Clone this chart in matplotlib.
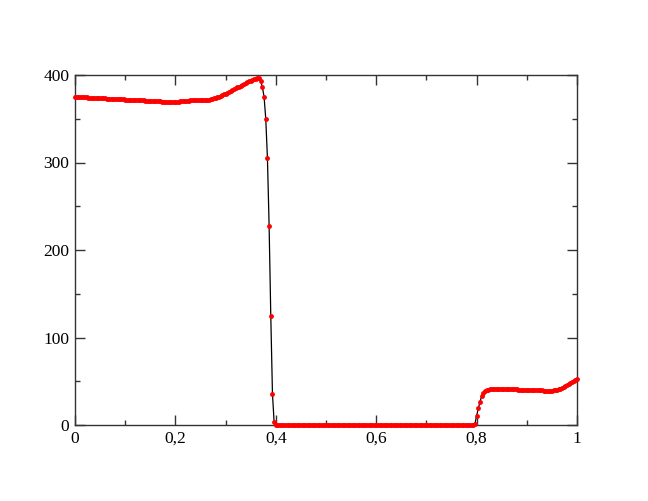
import numpy as np
import matplotlib
matplotlib.use('Agg')
import matplotlib.pyplot as plt
from matplotlib.ticker import MultipleLocator, FuncFormatter

## ---- data: 301 samples on x = i/300 ---- ##

npoints = 301

# left state, slow dip then bump before the drop (x = 0 ... 0.4)
left_part = [375.0, 374.9, 374.8, 374.7, 374.6, 374.5, 374.4, 374.3, 374.2, 374.1,
             374.0, 373.9, 373.8, 373.7, 373.6, 373.5, 373.4, 373.3, 373.2, 373.1,
             373.0, 372.9, 372.8, 372.7, 372.6, 372.5, 372.4, 372.3, 372.2, 372.1,
             372.0, 371.9, 371.8, 371.7, 371.6, 371.5, 371.4, 371.3, 371.2, 371.1,
             371.0, 370.9, 370.8, 370.7, 370.6, 370.5, 370.4, 370.3, 370.1, 370.0,
             369.9, 369.8, 369.7, 369.6, 369.5, 369.4, 369.4, 369.3,
             369.3, 369.3, 369.4, 369.5, 369.7, 369.9, 370.1, 370.3, 370.5,
             370.7, 370.8, 370.9, 371.0, 371.1, 371.2, 371.2, 371.3, 371.3,
             371.4, 371.5, 371.6, 371.8, 372.0, 372.3, 372.7, 373.2, 373.8,
             374.5, 375.3, 376.1, 377.0, 377.9, 378.8, 379.8, 380.8, 381.8, 382.8,
             383.8, 384.8, 385.8, 386.8, 387.7, 388.6, 389.6, 390.6, 391.6, 392.6,
             393.5, 394.4, 395.3, 396.0, 396.6, 396.2, 393.0, 386.0, 375.0, 350.0,
             305.0, 228.0, 125.0, 36.0, 3.0, 0.0]

# empty region between the two fronts
middle_part = [0.0] * 118

# rise near x = 0.8
rise_part = [1.5, 10.0, 19.0, 26.0, 33.0, 37.0, 39.0, 40.0]

# right plateau up to x = 1
right_part = [40.5, 40.7,
              40.8, 40.9, 40.9, 40.9, 40.9, 40.9, 40.8, 40.8, 40.8, 40.8, 40.7, 40.7, 40.7, 40.6,
              40.6, 40.6, 40.5, 40.5, 40.5, 40.4, 40.4, 40.4,
              40.3, 40.2, 40.1, 40.0, 39.9, 39.8, 39.7, 39.6, 39.5, 39.4, 39.4, 39.3, 39.3, 39.3, 39.4,
              39.5, 39.8, 40.2, 40.8, 41.5, 42.3, 43.2, 44.2, 45.3, 46.4, 47.6, 48.8, 50.0, 51.2, 52.3]

x = np.linspace(0, 1, npoints)
y = np.array(left_part + middle_part + rise_part + right_part)

xticklabels = ['0', '0,2', '0,4', '0,6', '0,8', '1']
yticklabels = ['0', '100', '200', '300', '400']

## ---- plot ---- ##

plt.rcParams['font.family'] = ['Liberation Serif', 'DejaVu Serif']

fig = plt.figure(figsize=(6.48, 5.01), dpi=100)
ax = fig.add_axes([75/648, 76/501, 502/648, 350/501])

# thin black line, red dots drawn on top
ax.plot(x, y, color='black', linewidth=0.9, zorder=2, clip_on=False)
ax.plot(x, y, linestyle='none', marker='o', markersize=3.5,
        markerfacecolor='#ff0000', markeredgecolor='#ff0000', markeredgewidth=0.0,
        zorder=3, clip_on=False)

ax.set_xlim(0, 1)
ax.set_ylim(0, 400)

ax.xaxis.set_major_locator(MultipleLocator(0.2))
ax.xaxis.set_minor_locator(MultipleLocator(0.1))
ax.yaxis.set_major_locator(MultipleLocator(100))
ax.yaxis.set_minor_locator(MultipleLocator(50))
ax.xaxis.set_major_formatter(FuncFormatter(lambda v, p: xticklabels[int(round(v / 0.2))] if 0 <= round(v / 0.2) < len(xticklabels) else ''))
ax.yaxis.set_major_formatter(FuncFormatter(lambda v, p: yticklabels[int(round(v / 100))] if 0 <= round(v / 100) < len(yticklabels) else ''))

ax.tick_params(which='both', direction='in', top=True, right=True, labelsize=12.5, width=1.0, color='#333333')
ax.tick_params(which='major', length=7.2, pad=4)
ax.tick_params(which='minor', length=3.6)

for s in ax.spines.values():
    s.set_linewidth(1.0)
    s.set_edgecolor('#333333')
    s.set_zorder(1)

fig.savefig('out.png', dpi=100)
